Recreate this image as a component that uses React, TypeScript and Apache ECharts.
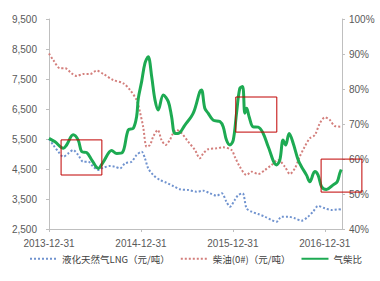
import React, { useEffect, useRef } from "react";
import * as echarts from "echarts";

// LNG price (元/吨)
const lngDates = [
  "2013-12-31", "2014-01-17", "2014-02-06", "2014-02-26", "2014-03-18", "2014-04-06",
  "2014-04-26", "2014-05-16", "2014-06-05", "2014-06-25", "2014-07-15", "2014-08-04",
  "2014-08-30", "2014-09-19", "2014-10-09", "2014-10-29", "2014-11-24", "2014-12-14",
  "2015-01-03", "2015-01-16", "2015-01-29", "2015-02-18", "2015-03-17", "2015-04-12",
  "2015-05-08", "2015-06-04", "2015-07-07", "2015-08-09", "2015-09-05", "2015-10-01",
  "2015-10-28", "2015-11-17", "2015-12-06", "2015-12-20", "2016-01-08", "2016-01-22",
  "2016-02-08", "2016-02-24", "2016-03-15", "2016-04-10", "2016-05-07", "2016-06-02",
  "2016-06-22", "2016-07-12", "2016-08-07", "2016-09-03", "2016-09-29", "2016-10-25",
  "2016-11-14", "2016-12-04", "2016-12-31", "2017-01-26", "2017-02-22", "2017-03-06",
];
const lngValues = [
  5500, 5300, 5077, 4910, 5023, 5133,
  4967, 4743, 4743, 4577, 4467, 4543,
  4600, 4577, 4523, 4690, 4743, 4967,
  5077, 4857, 4523, 4300, 4133, 4043,
  3933, 3823, 3800, 3743, 3777, 3690,
  3610, 3690, 3410, 3243, 3467, 3633,
  3690, 3190, 3077, 3000, 2910, 2800,
  2743, 2910, 2910, 2857, 2777, 2910,
  3077, 3267, 3190, 3133, 3157, 3150,
];

// Diesel (0#) price (元/吨)
const dieselDates = [
  "2013-12-31", "2014-01-17", "2014-02-13", "2014-03-05", "2014-03-31", "2014-04-20",
  "2014-05-16", "2014-06-12", "2014-07-08", "2014-08-04", "2014-09-12", "2014-10-22",
  "2014-11-18", "2014-12-14", "2014-12-27", "2015-01-09", "2015-01-23", "2015-02-05",
  "2015-02-18", "2015-03-08", "2015-03-23", "2015-04-08", "2015-04-25", "2015-05-08",
  "2015-05-22", "2015-06-11", "2015-07-07", "2015-08-03", "2015-08-22", "2015-09-05",
  "2015-09-24", "2015-10-28", "2015-11-23", "2015-12-26", "2016-01-08", "2016-01-28",
  "2016-02-24", "2016-03-15", "2016-04-10", "2016-05-07", "2016-06-02", "2016-06-28",
  "2016-07-25", "2016-08-14", "2016-09-03", "2016-09-22", "2016-10-12", "2016-11-01",
  "2016-11-21", "2016-12-11", "2016-12-31", "2017-01-20", "2017-02-08", "2017-03-06",
];
const dieselValues = [
  8350, 8133, 7857, 7857, 7690, 7600,
  7667, 7667, 7777, 7667, 7467, 7357,
  7133, 6800, 6410, 5910, 5243, 5300,
  5577, 5800, 5467, 5300, 5467, 5690,
  5800, 5690, 5410, 5133, 4857, 5023,
  5157, 5190, 5223, 5133, 4910, 4577,
  4300, 4410, 4333, 4467, 4633, 4800,
  4577, 4333, 4523, 4910, 5243, 5523,
  5633, 6023, 6223, 6133, 5933, 5910,
];

// Gas / diesel ratio (%)
const ratioDates = [
  "2013-12-31", "2014-01-24", "2014-02-26", "2014-03-11", "2014-04-06", "2014-04-26",
  "2014-05-10", "2014-05-30", "2014-06-19", "2014-07-15", "2014-08-04", "2014-09-06",
  "2014-09-26", "2014-10-18", "2014-11-11", "2014-12-01", "2014-12-14", "2014-12-21",
  "2015-01-03", "2015-01-16", "2015-01-29", "2015-02-12", "2015-02-25", "2015-03-10",
  "2015-03-30", "2015-04-19", "2015-05-02", "2015-05-15", "2015-05-28", "2015-06-24",
  "2015-07-27", "2015-08-22", "2015-08-29", "2015-09-11", "2015-09-24", "2015-10-14",
  "2015-11-10", "2015-11-23", "2015-12-06", "2015-12-20", "2016-01-02", "2016-01-15",
  "2016-01-28", "2016-02-08", "2016-02-17", "2016-02-24", "2016-03-05", "2016-03-21",
  "2016-04-10", "2016-04-30", "2016-05-20", "2016-06-22", "2016-07-05", "2016-07-18",
  "2016-07-28", "2016-08-11", "2016-08-27", "2016-09-16", "2016-09-29", "2016-10-19",
  "2016-11-01", "2016-11-21", "2016-12-04", "2016-12-18", "2017-01-06", "2017-02-02",
  "2017-02-18", "2017-02-28", "2017-03-06",
];
const ratioValues = [
  65.9, 64.9, 63.1, 64.0, 66.9, 65.4,
  62.1, 61.8, 59.7, 57.3, 59.2, 62.4,
  61.6, 61.8, 68.3, 68.8, 72.1, 77.4,
  82.1, 87.3, 89.2, 83.5, 76.9, 74.0,
  78.3, 76.4, 72.1, 67.3, 67.3, 69.7,
  73.1, 79.2, 79.7, 74.5, 73.1, 71.1,
  70.7, 69.2, 65.4, 64.0, 65.4, 73.1,
  80.2, 80.7, 73.1, 74.5, 72.1, 69.2,
  69.1, 67.3, 63.5, 58.3, 59.7, 65.4,
  64.0, 67.3, 64.5, 59.7, 57.8, 55.4,
  53.5, 56.4, 55.4, 52.1, 51.3, 52.6,
  53.5, 55.9, 57.0,
];

// Annotation boxes (dates, left-axis values)
const boxStartDates = ["2014-02-17", "2016-01-12", "2016-12-16"];
const boxEndDates = ["2014-07-29", "2016-06-23", "2017-05-27"];
const boxTopValues = [5470, 6900, 4830];
const boxBottomValues = [4300, 5730, 3730];

const seriesNames = ["液化天然气LNG（元/吨）", "柴油(0#)（元/吨）", "气柴比"];
const axisStartDate = "2013-12-31";
const axisEndDate = "2017-03-09";

const DAY = 86400000;
const BASE = Date.parse(axisStartDate);
const toDay = (s: string) => (Date.parse(s) - BASE) / DAY;
const YEAR = 365.25;

export default function App() {
  const ref = useRef<HTMLDivElement>(null);
  useEffect(() => {
    if (!ref.current) return;
    const chart = echarts.init(ref.current, null, { renderer: "svg" });
    const labelColor = "#595959";
    const axisColor = "#BFBFBF";
    const font = "Liberation Sans, Arial, sans-serif";
    chart.setOption({
      animation: false,
      grid: { left: 49, right: 38, top: 19, bottom: 52, containLabel: false },
      legend: {
        left: 29,
        top: 254,
        itemWidth: 27,
        itemHeight: 10,
        itemGap: 10,
        padding: 0,
        itemStyle: { opacity: 0 },
        textStyle: { fontSize: 9.5, color: "#404040", fontFamily: "Noto Sans CJK SC" },
        data: seriesNames,
      },
      xAxis: {
        type: "value",
        min: 0,
        max: toDay(axisEndDate),
        interval: YEAR,
        axisLine: { lineStyle: { color: axisColor } },
        axisTick: { show: true, length: 3, lineStyle: { color: axisColor } },
        splitLine: { show: false },
        axisLabel: {
          color: labelColor,
          fontSize: 10,
          fontFamily: font,
          margin: 9,
          showMaxLabel: false,
          formatter: (v: number) => {
            const k = v / YEAR;
            if (Math.abs(k - Math.round(k)) > 0.01) return "";
            return `${2013 + Math.round(k)}-12-31`;
          },
        },
      },
      yAxis: [
        {
          type: "value",
          min: 2500,
          max: 9500,
          interval: 1000,
          axisLine: { show: true, lineStyle: { color: axisColor } },
          axisTick: { show: true, length: 3, lineStyle: { color: axisColor } },
          splitLine: { show: false },
          axisLabel: {
            color: labelColor,
            fontSize: 10,
            fontFamily: font,
            margin: 12,
            formatter: (v: number) => v.toLocaleString("en-US"),
          },
        },
        {
          type: "value",
          min: 40,
          max: 100,
          interval: 10,
          position: "right",
          axisLine: { show: true, lineStyle: { color: axisColor } },
          axisTick: { show: true, length: 3, lineStyle: { color: axisColor } },
          splitLine: { show: false },
          axisLabel: {
            color: labelColor,
            fontSize: 10,
            fontFamily: font,
            margin: 7,
            formatter: "{value}%",
          },
        },
      ],
      series: [
        {
          name: seriesNames[0],
          type: "line",
          yAxisIndex: 0,
          symbol: "none",
          smooth: 0.3,
          lineStyle: { color: "#7093CF", width: 2, type: [2, 2] },
          itemStyle: { color: "#7093CF" },
          data: lngDates.map((d, i) => [toDay(d), lngValues[i]]),
        },
        {
          name: seriesNames[1],
          type: "line",
          yAxisIndex: 0,
          symbol: "none",
          smooth: 0.3,
          lineStyle: { color: "#D37F7C", width: 2, type: [2, 2] },
          itemStyle: { color: "#D37F7C" },
          data: dieselDates.map((d, i) => [toDay(d), dieselValues[i]]),
        },
        {
          name: seriesNames[2],
          type: "line",
          yAxisIndex: 1,
          symbol: "none",
          smooth: 0.35,
          lineStyle: { color: "#1DAA52", width: 3 },
          itemStyle: { color: "#1DAA52" },
          data: ratioDates.map((d, i) => [toDay(d), ratioValues[i]]),
        },
      ],
    });

    const boxes = boxStartDates.map((s, i) => {
      const p1 = chart.convertToPixel({ xAxisIndex: 0, yAxisIndex: 0 }, [toDay(s), boxTopValues[i]]) as number[];
      const p2 = chart.convertToPixel({ xAxisIndex: 0, yAxisIndex: 0 }, [toDay(boxEndDates[i]), boxBottomValues[i]]) as number[];
      return {
        type: "rect",
        shape: { x: p1[0], y: p1[1], width: p2[0] - p1[0], height: p2[1] - p1[1] },
        style: { fill: "none", stroke: "#C00000", lineWidth: 1 },
        z: 100,
      };
    });
    chart.setOption({ graphic: boxes });

    return () => chart.dispose();
  }, []);
  return (
    <div
      ref={ref}
      style={{ position: "fixed", left: 0, top: 0, width: 380, height: 281, background: "#fff" }}
    />
  );
}
